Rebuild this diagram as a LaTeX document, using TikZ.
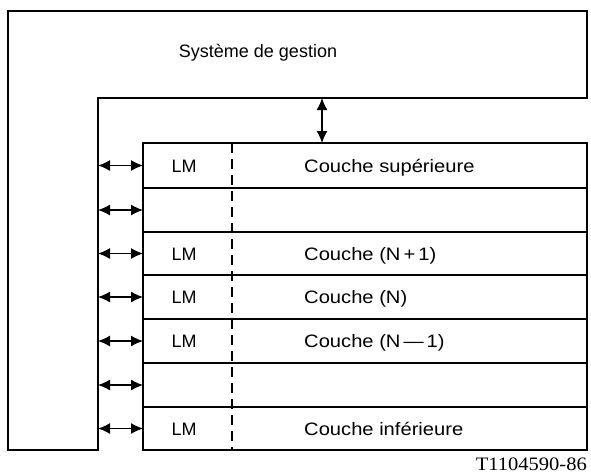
\documentclass[tikz,border=0pt]{standalone}
\usepackage{fontspec}
\setmainfont{Liberation Sans}
\newfontfamily\widefont{Liberation Sans}[FakeStretch=1.12]
\newfontfamily\capfont{Liberation Serif}[FakeStretch=1.08]
\usetikzlibrary{arrows.meta}
\begin{document}
\begin{tikzpicture}[x=1pt,y=-1pt,
  frame/.style={line width=1.5pt},
  layerbox/.style={draw,line width=1.5pt,minimum width=444pt,inner sep=0pt,outer sep=0pt,anchor=north west},
  biarrow/.style={line width=1.3pt,{Latex[length=12pt,width=11pt]}-{Latex[length=12pt,width=11pt]}},
  lbl/.style={font=\fontsize{18}{20}\selectfont,anchor=base,inner sep=0pt},
  lyr/.style={font=\widefont\fontsize{18}{20}\selectfont,anchor=base west,inner sep=0pt},
  sep/.style={line width=1.5pt,dash pattern=on 10pt off 6pt}]
\useasboundingbox (0,0) rectangle (591,475);
% management system L-shape
\draw[frame] (8,450) -- (8,11) -- (587,11) -- (587,98) -- (98,98) -- (98,450) -- cycle;
\node[lbl] (sys) at (258,57) {Système de gestion};
\coordinate (Lin) at (98,300);
\coordinate (Lbot) at (322,98);
% layers
\node[layerbox,minimum height=45pt] (r1) at (143,143) {};
\node[layerbox,minimum height=44pt] (r2) at (143,188) {};
\node[layerbox,minimum height=43pt] (r3) at (143,232) {};
\node[layerbox,minimum height=44pt] (r4) at (143,275) {};
\node[layerbox,minimum height=44pt] (r5) at (143,319) {};
\node[layerbox,minimum height=44pt] (r6) at (143,363) {};
\node[layerbox,minimum height=43pt] (r7) at (143,407) {};
% dashed separator
\coordinate (dx) at (232,0);
\draw[sep] (r1.north -| dx) -- (r7.south -| dx);
% labels
\foreach \r/\t in {r1/Couche supérieure, r3/Couche (N\,+\,1), r4/Couche (N), r5/Couche (N\,—\,1), r7/Couche inférieure}{
  \node[lbl] (\r lm) at ([yshift=-6.5pt]\r.center -| 184,0) {LM};
  \node[lyr] (\r t) at ([yshift=-6.5pt]\r.center -| 304,0) {\t};
}
% arrows
\foreach \r in {r1,r2,r3,r4,r5,r6,r7}{
  \draw[biarrow] (\r.west -| Lin) -- (\r.west);
}
\draw[biarrow] (Lbot) -- (Lbot |- r1.north);
% caption
\node[font=\capfont\fontsize{19}{22}\selectfont,anchor=base east,inner sep=0pt] (cap) at (587,470) {T1104590-86};
\end{tikzpicture}
\end{document}
